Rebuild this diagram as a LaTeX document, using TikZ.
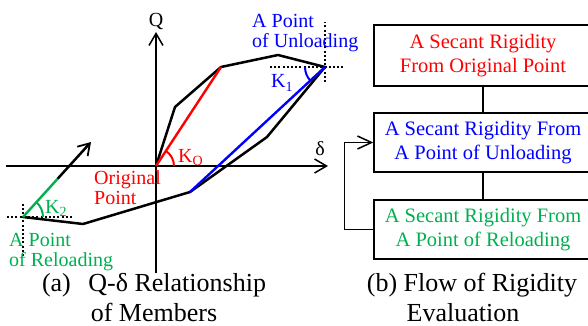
\documentclass[tikz,border=0pt]{standalone}
\usepackage{fontspec}
\setmainfont{Liberation Serif}
\usetikzlibrary{arrows.meta}
\definecolor{myred}{RGB}{255,0,0}
\definecolor{myblue}{RGB}{0,0,255}
\definecolor{mygreen}{RGB}{0,176,80}
\begin{document}
\begin{tikzpicture}[x=1pt,y=-1pt,
  axis/.style={line width=1.5pt},
  loopline/.style={line width=2.5pt, line join=round},
  colline/.style={line width=2.4pt},
  dots/.style={line width=2.4pt, dash pattern=on 2pt off 2.2pt},
  barb/.style={-{Straight Barb[length=12pt,width=14pt,line width=1.5pt]}},
  lbl/.style={inner sep=0pt, font=\fontsize{20}{20.5}\selectfont},
  box/.style={draw, line width=1.5pt, minimum width=218pt, inner sep=0pt,
    align=center, font=\fontsize{20.5}{24}\selectfont},
  captxt/.style={inner sep=0pt, align=center, font=\fontsize{26}{30}\selectfont},
  conn/.style={line width=1.5pt}
]
\useasboundingbox (0,0) rectangle (588,326);
\clip (0,0) rectangle (588,326);

% key points
\coordinate (O) at (156,166);
\coordinate (P1) at (175,107);
\coordinate (P2) at (221,67);
\coordinate (P3) at (278,55);
\coordinate (U) at (325,67);
\coordinate (P4) at (267,137);
\coordinate (P5) at (190,192);
\coordinate (P6) at (83,224);
\coordinate (R) at (23,217);
\coordinate (G) at (57.7,178.7);
\coordinate (T) at (91,142);
\coordinate (Qb) at (156,273);
\coordinate (Qt) at (156,32);
\coordinate (Dl) at (6,166);
\coordinate (Dr) at (328,166);

% axes
\draw[axis,barb] (Qb) -- (Qt);
\draw[axis,barb] (Dl) -- (Dr);

% dotted guides
\draw[dots] ([xshift=-55pt]U) -- ([xshift=20pt]U);
\draw[dots] ([yshift=-15pt]U) -- ([yshift=45pt]U);
\draw[dots] ([xshift=-16pt]R) -- ([xshift=50pt]R);
\draw[dots] ([yshift=-39pt]R) -- ([yshift=13pt]R);

% hysteresis loop
\draw[loopline] (O) -- (P1) -- (P2) -- (P3) -- (U) -- (P4) -- (P5) -- (P6) -- (R);
\draw[colline, myred] (O) -- (P2);
\draw[colline, myblue] (U) -- (P5);
\draw[colline, mygreen] (R) -- (G);
\draw[loopline, -{Straight Barb[length=11pt,width=14pt,line width=1.8pt]}] (G) -- (T);

% angle arcs (arc angles are in page orientation)
\draw[line width=2pt, myred] ([xshift=18pt]O) arc[start angle=0, end angle=56.7, radius=18pt];
\draw[line width=2pt, myblue] ([xshift=-20pt]U) arc[start angle=180, end angle=222.8, radius=20pt];
\draw[line width=2pt, mygreen] ([xshift=20pt]R) arc[start angle=0, end angle=47.8, radius=20pt];

% labels
\node[lbl, anchor=base] (q) at (156,27) {Q};
\node[lbl, anchor=base] (d) at (320,155) {δ};
\node[lbl, anchor=base west, text=myred] (ko) at (178,162) {K\textsubscript{O}};
\node[lbl, anchor=base west, text=myblue] (k1) at (271,88) {K\textsubscript{1}};
\node[lbl, anchor=base west, text=mygreen] (k2) at (45,213) {K\textsubscript{2}};
\node[lbl, anchor=north west, align=left, text=myblue] (lu) at (252,14) {A Point\\of Unloading};
\node[lbl, anchor=north west, align=left, text=myred] (lo) at (94,170) {Original\\Point};
\node[lbl, anchor=north west, align=left, text=mygreen] (lr) at (9,233) {A Point\\of Reloading};

% flow boxes
\node[box, minimum height=61pt, text=myred] (b1) at (483,55.5) {A Secant Rigidity\\From Original Point};
\node[box, minimum height=59pt, text=myblue] (b2) at (483,142.5) {A Secant Rigidity From\\A Point of Unloading};
\node[box, minimum height=59pt, text=mygreen] (b3) at (483,229.5) {A Secant Rigidity From\\A Point of Reloading};
\draw[conn] (b1.south) -- (b2.north);
\draw[conn] (b2.south) -- (b3.north);
\draw[conn, -{Straight Barb[length=14pt,width=13pt,line width=1.5pt]}] (b3.west) -- ++(-29pt,0) |- (b2.west);

% captions
\node[captxt, anchor=north] (ca) at (154,273) {(a)\hspace{11pt} Q-δ Relationship\\of Members};
\node[captxt, anchor=north] (cb) at (472,273) {(b) Flow of Rigidity\\Evaluation\hspace*{18pt}};
\end{tikzpicture}
\end{document}
